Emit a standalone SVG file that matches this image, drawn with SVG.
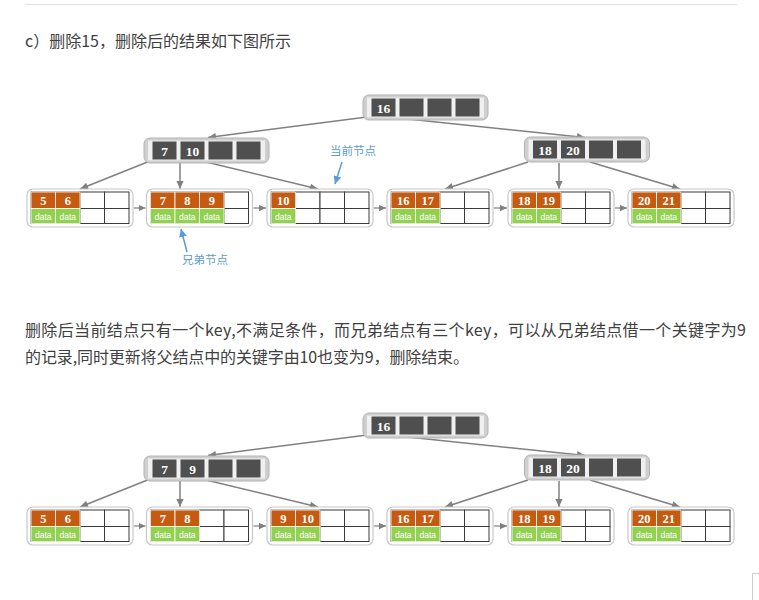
<svg xmlns="http://www.w3.org/2000/svg" width="759" height="600" viewBox="0 0 759 600">
<defs>
<style>
.txt{font-family:"Noto Sans CJK SC","Liberation Sans",sans-serif;font-size:16px;fill:#404040}
.lbl{font-family:"Noto Sans CJK SC","Liberation Sans",sans-serif;font-size:11.5px;fill:#5b9bd5}
.io{fill:#cfcfcf;stroke:#b3b3b3;stroke-width:1}
.ii{fill:#f0f0f0}
.ic{fill:#4f4f4f}
.it{font-family:"Liberation Serif",serif;font-weight:bold;font-size:13.5px;fill:#fff;text-anchor:middle}
.lo{fill:#fff;stroke:#c8c8c8;stroke-width:1.2}
.ko{fill:#c55a11;stroke:#fff;stroke-width:0.8}
.kg{fill:#92d050;stroke:#fff;stroke-width:0.8}
.ke{fill:#fff;stroke:#3a3a3a;stroke-width:1}
.kt{font-family:"Liberation Serif",serif;font-weight:bold;font-size:12.5px;fill:#fff;text-anchor:middle}
.dt{font-family:"Liberation Sans",sans-serif;font-size:8.5px;fill:#fff;text-anchor:middle}
.cn{stroke:#808080;stroke-width:1.5;fill:none}
.cs{stroke:#808080;stroke-width:1.2;fill:none}
.bl{stroke:#5b9bd5;stroke-width:1.5;fill:none}
</style>
<marker id="arr" viewBox="0 0 10 10" refX="10" refY="5" markerWidth="9" markerHeight="8" markerUnits="userSpaceOnUse" orient="auto"><path d="M0,0.5 L10,5 L0,9.5 z" fill="#808080"/></marker>
<marker id="arrs" viewBox="0 0 10 10" refX="10" refY="5" markerWidth="7" markerHeight="7" markerUnits="userSpaceOnUse" orient="auto"><path d="M0,0.5 L10,5 L0,9.5 z" fill="#808080"/></marker>
<marker id="arrb" viewBox="0 0 10 10" refX="10" refY="5" markerWidth="8" markerHeight="8" markerUnits="userSpaceOnUse" orient="auto"><path d="M0,0 L10,5 L0,10 z" fill="#5b9bd5"/></marker>
<g id="inode">
<rect class="io" x="0" y="0" width="125" height="25" rx="6"/>
<rect class="ii" x="4" y="2.5" width="117" height="20"/>
<rect class="ic" x="8.5" y="3.5" width="24" height="18"/>
<rect class="ic" x="36.5" y="3.5" width="24" height="18"/>
<rect class="ic" x="64.5" y="3.5" width="24" height="18"/>
<rect class="ic" x="92.5" y="3.5" width="24" height="18"/>
</g>
<g id="leaf">
<rect class="lo" x="0" y="0" width="106" height="38" rx="6"/>
<rect class="ke" x="4" y="3" width="24.5" height="16.5"/>
<rect class="ke" x="28.5" y="3" width="24.5" height="16.5"/>
<rect class="ke" x="53" y="3" width="24.5" height="16.5"/>
<rect class="ke" x="77.5" y="3" width="24.5" height="16.5"/>
<rect class="ke" x="4" y="19.5" width="24.5" height="15"/>
<rect class="ke" x="28.5" y="19.5" width="24.5" height="15"/>
<rect class="ke" x="53" y="19.5" width="24.5" height="15"/>
<rect class="ke" x="77.5" y="19.5" width="24.5" height="15"/>
</g>
<g id="k1"><rect class="ko" x="4" y="3" width="24.5" height="16.5"/><rect class="kg" x="4" y="19.5" width="24.5" height="15"/><text class="dt" x="16.25" y="30.5">data</text></g>
<g id="k2"><rect class="ko" x="28.5" y="3" width="24.5" height="16.5"/><rect class="kg" x="28.5" y="19.5" width="24.5" height="15"/><text class="dt" x="40.75" y="30.5">data</text></g>
<g id="k3"><rect class="ko" x="53" y="3" width="24.5" height="16.5"/><rect class="kg" x="53" y="19.5" width="24.5" height="15"/><text class="dt" x="65.25" y="30.5">data</text></g>
</defs>

<line x1="25" y1="4.5" x2="737" y2="4.5" stroke="#e0e0e0" stroke-width="1"/>
<text class="txt" x="25" y="46.5">c）删除15，删除后的结果如下图所示</text>
<text class="txt" x="25" y="336" textLength="721" lengthAdjust="spacing">删除后当前结点只有一个key,不满足条件，而兄弟结点有三个key，可以从兄弟结点借一个关键字为9</text>
<text class="txt" x="25" y="363" textLength="444" lengthAdjust="spacing">的记录,同时更新将父结点中的关键字由10也变为9，删除结束。</text>
<path d="M752.5,600 V573.5 H759" stroke="#cccccc" stroke-width="1" fill="none"/>

<!-- ============ Diagram 1 ============ -->
<g id="connectors1">
<line class="cn" x1="367" y1="117" x2="208" y2="137.5" marker-end="url(#arr)"/>
<line class="cn" x1="398" y1="118" x2="585" y2="137.5" marker-end="url(#arr)"/>
<line class="cn" x1="150" y1="161" x2="80" y2="189" marker-end="url(#arr)"/>
<line class="cn" x1="180" y1="163" x2="180" y2="189" marker-end="url(#arr)"/>
<line class="cn" x1="206" y1="162" x2="318" y2="189" marker-end="url(#arr)"/>
<line class="cn" x1="528" y1="162" x2="445" y2="189" marker-end="url(#arr)"/>
<line class="cn" x1="559" y1="163" x2="559" y2="189" marker-end="url(#arr)"/>
<line class="cn" x1="590" y1="162" x2="680" y2="189" marker-end="url(#arr)"/>
<line class="cs" x1="134" y1="208" x2="145.5" y2="208" marker-end="url(#arrs)"/>
<line class="cs" x1="253.5" y1="208" x2="266" y2="208" marker-end="url(#arrs)"/>
<line class="cs" x1="374" y1="208" x2="386" y2="208" marker-end="url(#arrs)"/>
<line class="cs" x1="494" y1="208" x2="507" y2="208" marker-end="url(#arrs)"/>
<line class="cs" x1="615" y1="208" x2="627" y2="208" marker-end="url(#arrs)"/>
<line class="bl" x1="342" y1="162" x2="335" y2="184" marker-end="url(#arrb)"/>
<line class="bl" x1="187" y1="252" x2="181" y2="229" marker-end="url(#arrb)"/>
</g>
<g id="root1" transform="translate(363,95)"><use href="#inode"/><text class="it" x="20.5" y="17.5">16</text></g>
<g id="in1L" transform="translate(144,138)"><use href="#inode"/><text class="it" x="20.5" y="17.5">7</text><text class="it" x="48.5" y="17.5">10</text></g>
<g id="in1R" transform="translate(524.5,137)"><use href="#inode"/><text class="it" x="20.5" y="17.5">18</text><text class="it" x="48.5" y="17.5">20</text></g>
<g id="lf1a" transform="translate(27,189)"><use href="#leaf"/><use href="#k1"/><use href="#k2"/><text class="kt" x="16.25" y="16">5</text><text class="kt" x="40.75" y="16">6</text></g>
<g id="lf1b" transform="translate(146.5,189)"><use href="#leaf"/><use href="#k1"/><use href="#k2"/><use href="#k3"/><text class="kt" x="16.25" y="16">7</text><text class="kt" x="40.75" y="16">8</text><text class="kt" x="65.25" y="16">9</text></g>
<g id="lf1c" transform="translate(267,189)"><use href="#leaf"/><use href="#k1"/><text class="kt" x="16.25" y="16">10</text></g>
<g id="lf1d" transform="translate(387,189)"><use href="#leaf"/><use href="#k1"/><use href="#k2"/><text class="kt" x="16.25" y="16">16</text><text class="kt" x="40.75" y="16">17</text></g>
<g id="lf1e" transform="translate(508,189)"><use href="#leaf"/><use href="#k1"/><use href="#k2"/><text class="kt" x="16.25" y="16">18</text><text class="kt" x="40.75" y="16">19</text></g>
<g id="lf1f" transform="translate(628,189)"><use href="#leaf"/><use href="#k1"/><use href="#k2"/><text class="kt" x="16.25" y="16">20</text><text class="kt" x="40.75" y="16">21</text></g>
<g id="lblCur"><text class="lbl" x="330" y="155">当前节点</text></g>
<g id="lblSib"><text class="lbl" x="182" y="264">兄弟节点</text></g>

<!-- ============ Diagram 2 ============ -->
<g id="connectors2">
<line class="cn" x1="367" y1="435" x2="208" y2="455.5" marker-end="url(#arr)"/>
<line class="cn" x1="398" y1="436" x2="585" y2="455.5" marker-end="url(#arr)"/>
<line class="cn" x1="150" y1="479" x2="80" y2="507" marker-end="url(#arr)"/>
<line class="cn" x1="180" y1="481" x2="180" y2="507" marker-end="url(#arr)"/>
<line class="cn" x1="206" y1="480" x2="318" y2="507" marker-end="url(#arr)"/>
<line class="cn" x1="528" y1="480" x2="445" y2="507" marker-end="url(#arr)"/>
<line class="cn" x1="559" y1="481" x2="559" y2="507" marker-end="url(#arr)"/>
<line class="cn" x1="590" y1="480" x2="680" y2="507" marker-end="url(#arr)"/>
<line class="cs" x1="134" y1="526" x2="145.5" y2="526" marker-end="url(#arrs)"/>
<line class="cs" x1="253.5" y1="526" x2="266" y2="526" marker-end="url(#arrs)"/>
<line class="cs" x1="374" y1="526" x2="386" y2="526" marker-end="url(#arrs)"/>
<line class="cs" x1="494" y1="526" x2="507" y2="526" marker-end="url(#arrs)"/>
</g>
<g id="root2" transform="translate(363,413)"><use href="#inode"/><text class="it" x="20.5" y="17.5">16</text></g>
<g id="in2L" transform="translate(144,456)"><use href="#inode"/><text class="it" x="20.5" y="17.5">7</text><text class="it" x="48.5" y="17.5">9</text></g>
<g id="in2R" transform="translate(524.5,455)"><use href="#inode"/><text class="it" x="20.5" y="17.5">18</text><text class="it" x="48.5" y="17.5">20</text></g>
<g id="lf2a" transform="translate(27,507)"><use href="#leaf"/><use href="#k1"/><use href="#k2"/><text class="kt" x="16.25" y="16">5</text><text class="kt" x="40.75" y="16">6</text></g>
<g id="lf2b" transform="translate(146.5,507)"><use href="#leaf"/><use href="#k1"/><use href="#k2"/><text class="kt" x="16.25" y="16">7</text><text class="kt" x="40.75" y="16">8</text></g>
<g id="lf2c" transform="translate(267,507)"><use href="#leaf"/><use href="#k1"/><use href="#k2"/><text class="kt" x="16.25" y="16">9</text><text class="kt" x="40.75" y="16">10</text></g>
<g id="lf2d" transform="translate(387,507)"><use href="#leaf"/><use href="#k1"/><use href="#k2"/><text class="kt" x="16.25" y="16">16</text><text class="kt" x="40.75" y="16">17</text></g>
<g id="lf2e" transform="translate(508,507)"><use href="#leaf"/><use href="#k1"/><use href="#k2"/><text class="kt" x="16.25" y="16">18</text><text class="kt" x="40.75" y="16">19</text></g>
<g id="lf2f" transform="translate(628,507)"><use href="#leaf"/><use href="#k1"/><use href="#k2"/><text class="kt" x="16.25" y="16">20</text><text class="kt" x="40.75" y="16">21</text></g>
</svg>
